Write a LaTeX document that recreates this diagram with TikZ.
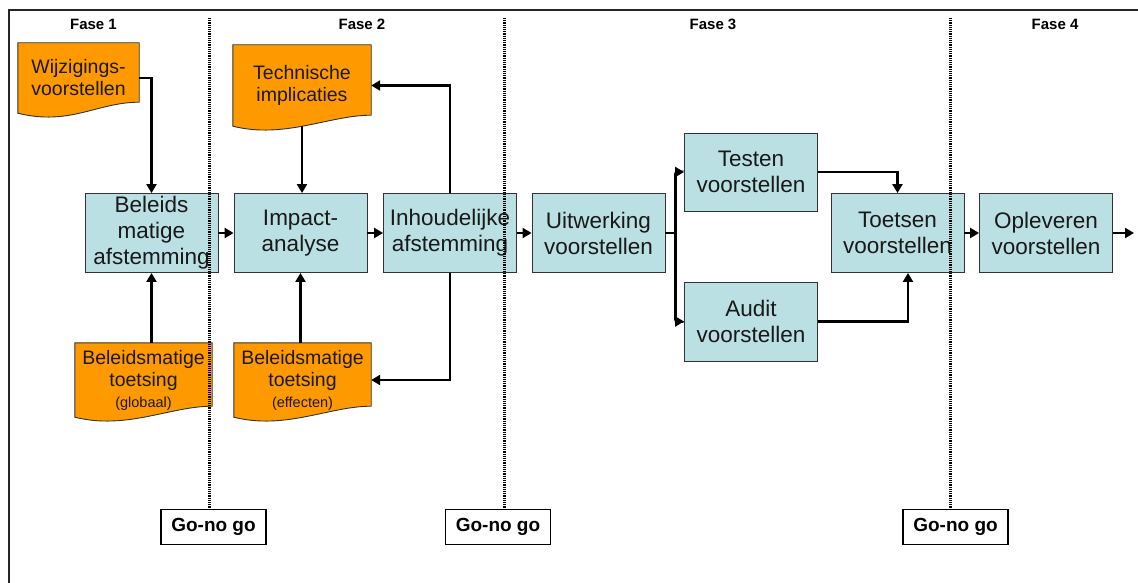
\documentclass[tikz,border=0pt]{standalone}
\usepackage{fontspec}
\setmainfont{Liberation Sans}
\usetikzlibrary{arrows.meta,calc,backgrounds}
\definecolor{docor}{HTML}{FF9900}
\definecolor{procbl}{HTML}{BBE0E3}
\definecolor{edgecol}{HTML}{333333}
\newcommand{\docwave}[1]{%
  \draw[draw=edgecol, fill=docor, line width=0.9pt]
    (#1.north west) -- (#1.north east) -- ($(#1.south east)+(0,-11)$)
    .. controls ($(#1.south east)+(-42,-11)$) and ($(#1.south west)+(52,13)$) ..
    (#1.south west) -- cycle;}
\begin{document}
\begin{tikzpicture}[x=1pt,y=-1pt,
  proc/.style={draw=edgecol, fill=procbl, line width=0.9pt, minimum width=133pt,
    minimum height=79pt, inner sep=0pt, align=center,
    font=\fontsize{22.5}{26}\selectfont, text=black!90},
  doc/.style={inner sep=0pt, align=center, font=\fontsize{19.5}{22}\selectfont, text=black!90},
  arr/.style={line width=2.6pt, -{Triangle[length=9pt,width=10pt]}},
  plain/.style={line width=2.6pt},
  gono/.style={draw=black, line width=1.3pt, fill=white, minimum width=105pt,
    minimum height=35pt, inner sep=0pt, font=\fontsize{19}{22}\selectfont\bfseries},
  fase/.style={font=\fontsize{15}{18}\selectfont\bfseries},
  gate/.style={line width=3pt, dash pattern=on 1.2pt off 1pt}
]
\useasboundingbox (0,0) rectangle (1138,583);
% frame
\draw[line width=1.8pt, black!85] (9,583) -- (9,10) -- (1138,10);

% phase labels
\node[fase] (f1) at (93.5,24.5) {Fase 1};
\node[fase] (f2) at (362,24.5) {Fase 2};
\node[fase] (f3) at (713,24.5) {Fase 3};
\node[fase] (f4) at (1055,24.5) {Fase 4};

% documents
\node[doc, minimum width=121pt, minimum height=70pt] (w) at (78.5,78) {Wijzigings-\\voorstellen};
\node[doc, minimum width=138pt, minimum height=81pt] (tech) at (302,85.5) {Technische\\implicaties};
\node[doc, minimum width=137pt, minimum height=74pt] (bg) at (143.5,380)
  {Beleidsmatige\\toetsing\\[-1pt]{\fontsize{14.5}{17}\selectfont (globaal)}};
\node[doc, minimum width=137pt, minimum height=74pt] (be) at (302.5,380)
  {Beleidsmatige\\toetsing\\[-1pt]{\fontsize{14.5}{17}\selectfont (effecten)}};
\begin{scope}[on background layer]
  \fill[white] (0,0) rectangle (1138,583);
  \docwave{w}
  \docwave{tech}
  \docwave{bg}
  \docwave{be}
\end{scope}

% process boxes
\node[proc] (b1) at (151.5,233) {Beleids\\matige\\afstemming};
\node[proc] (b2) at (300.5,233) {Impact-\\analyse};
\node[proc] (b3) at (450,233) {Inhoudelijke\\afstemming};
\node[proc] (b4) at (598.5,233) {Uitwerking\\voorstellen};
\node[proc, minimum height=78pt] (tv) at (751,172) {Testen\\voorstellen};
\node[proc] (av) at (751,321.5) {Audit\\voorstellen};
\node[proc] (ts) at (897.5,233) {Toetsen\\voorstellen};
\node[proc] (op) at (1046,233) {Opleveren\\voorstellen};

% go-no go
\node[gono] (g1) at (213.5,527) {Go-no go};
\node[gono] (g2) at (498,527) {Go-no go};
\node[gono] (g3) at (955.5,527) {Go-no go};

% connectors
\draw[arr] (w.east) -| (b1.north);
\draw[arr] (bg.north -| b1.south) -- (b1.south);
\draw[arr] (b1) -- (b2);
\draw[arr] (tech.south) -- (tech.south |- b2.north);
\draw[arr] (be.north -| b2.south) -- (b2.south);
\draw[arr] (b2) -- (b3);
\draw[arr] (b3) -- (b4);
\draw[arr] (b3.north) |- (tech.east);
\draw[arr] (b3.south) |- (be.east);
\draw[plain] (b4.east) -- ++(10,0) coordinate (fk);
\draw[arr, rounded corners=2pt] (fk) |- (tv.west);
\draw[arr, rounded corners=2pt] (fk) |- (av.west);
\draw[arr] (tv.east) -| (ts.north);
\draw[arr] (av.east) -| ($(ts.south)+(10.5,0)$);
\draw[arr] (ts) -- (op);
\coordinate (out) at (1134,233);
\draw[arr] (op.east) -- (out);

% gate lines
\coordinate (t1) at (209,18);
\coordinate (t2) at (504,18);
\coordinate (t3) at (950,18);
\draw[gate] (t1) -- (t1 |- g1.north);
\draw[gate] (t2) -- (t2 |- g2.north);
\draw[gate] (t3) -- (t3 |- g3.north);
\end{tikzpicture}
\end{document}
